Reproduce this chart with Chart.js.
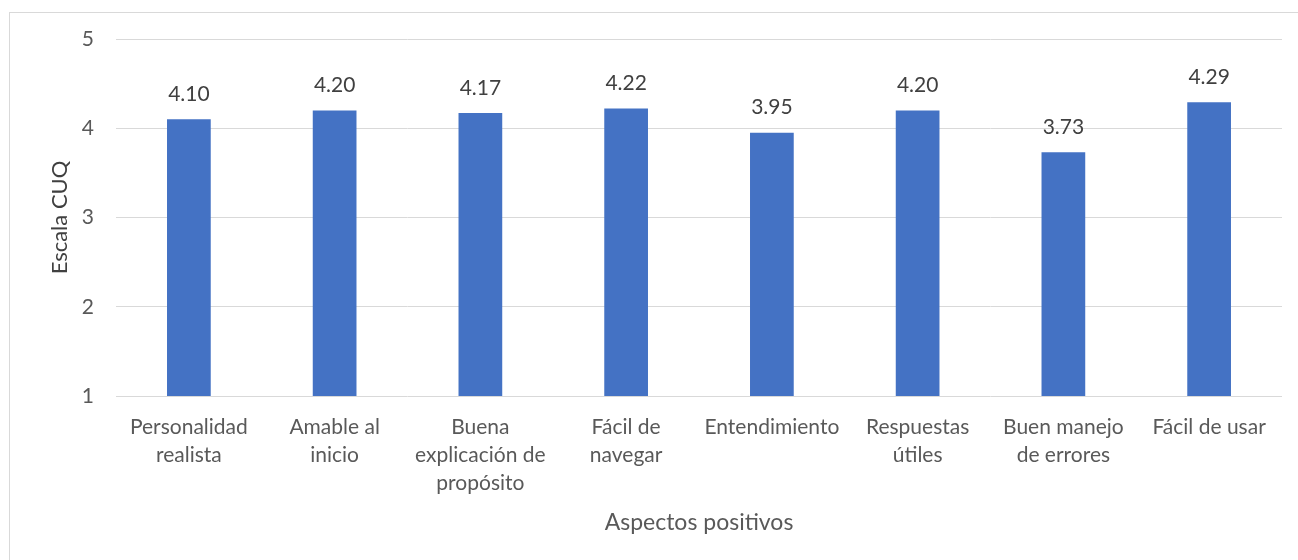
<!DOCTYPE html>
<html>
<head>
<meta charset="utf-8">
<script src="https://cdn.jsdelivr.net/npm/chart.js@4/dist/chart.umd.min.js"></script>
<style>
  html, body { margin: 0; padding: 0; background: #fff; }
  #wrap { width: 1298px; height: 560px; position: relative; }
</style>
</head>
<body>
<div id="wrap"><canvas id="myChart" width="1298" height="560"></canvas></div>
<script>
const categories = [
    ['Personalidad', 'realista'],
    ['Amable al', 'inicio'],
    ['Buena', 'explicación de', 'propósito'],
    ['Fácil de', 'navegar'],
    'Entendimiento',
    ['Respuestas', 'útiles'],
    ['Buen manejo', 'de errores'],
    'Fácil de usar'
];
const cuqScores = [4.10, 4.20, 4.17, 4.22, 3.95, 4.20, 3.73, 4.29];
const yTicks = [1, 2, 3, 4, 5];

const FONT = 'Lato, "Liberation Sans", sans-serif';

// thin grey frame around the whole chart
const frame = {
    id: 'frame',
    beforeDraw(chart) {
        const ctx = chart.ctx;
        ctx.save();
        ctx.strokeStyle = '#d9d9d9';
        ctx.lineWidth = 1;
        ctx.strokeRect(9.5, 12.5, 1400, 700);
        ctx.restore();
    }
};

// value printed above each bar
const valueLabels = {
    id: 'valueLabels',
    afterDatasetsDraw(chart) {
        const ctx = chart.ctx;
        const meta = chart.getDatasetMeta(0);
        ctx.save();
        ctx.font = '21px ' + FONT;
        ctx.fillStyle = '#404040';
        ctx.textAlign = 'center';
        ctx.textBaseline = 'middle';
        meta.data.forEach((bar, i) => {
            ctx.fillText(cuqScores[i].toFixed(2), bar.x, bar.y - 25);
        });
        ctx.restore();
    }
};

const canva = document.getElementById('myChart');
const ctx = canva.getContext('2d');
const chart = new Chart(ctx, {
    type: 'bar',
    data: {
        labels: categories,
        datasets: [{
            data: cuqScores,
            backgroundColor: '#4472C4',
            categoryPercentage: 1,
            barPercentage: 0.3
        }]
    },
    options: {
        responsive: false,
        animation: false,
        layout: { padding: { left: 47, top: 39, right: 16, bottom: 24 } },
        plugins: {
            legend: { display: false },
            tooltip: { enabled: false }
        },
        scales: {
            x: {
                grid: { display: false, drawTicks: false },
                border: { display: false },
                ticks: {
                    color: '#595959',
                    padding: 17,
                    maxRotation: 0,
                    autoSkip: false,
                    font: { family: FONT, size: 21, lineHeight: 1.33 }
                },
                title: {
                    display: true,
                    text: 'Aspectos positivos',
                    color: '#595959',
                    padding: 0,
                    font: { family: FONT, size: 23 }
                },
                afterFit(scale) { scale.height = 140; }
            },
            y: {
                min: 1,
                max: 5,
                afterBuildTicks(scale) {
                    scale.ticks = yTicks.map(v => ({ value: v }));
                },
                grid: { color: '#d9d9d9', drawTicks: false },
                border: { display: false },
                ticks: {
                    color: '#595959',
                    padding: 22,
                    font: { family: FONT, size: 21 }
                },
                title: {
                    display: true,
                    text: 'Escala CUQ',
                    color: '#404040',
                    padding: 0,
                    font: { family: FONT, size: 22 }
                },
                afterFit(scale) { scale.width = 69; }
            }
        }
    },
    plugins: [frame, valueLabels]
});
</script>
</body>
</html>
